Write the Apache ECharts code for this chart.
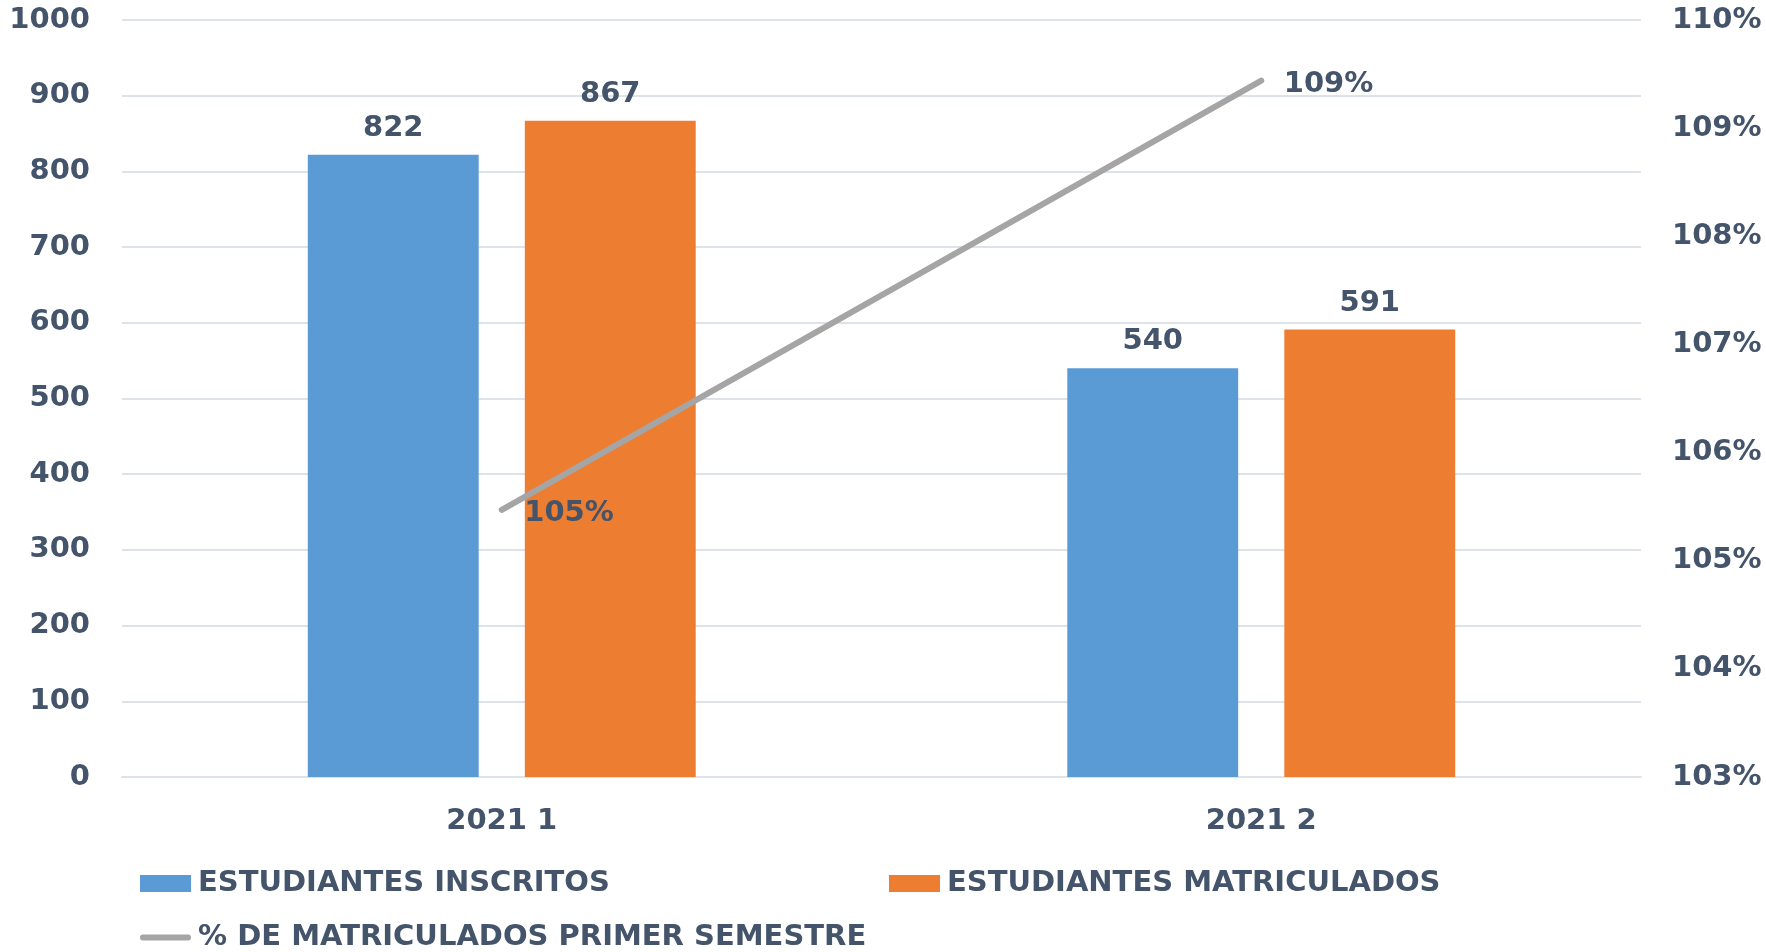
<!DOCTYPE html>
<html><head><meta charset="utf-8">
<script src="https://cdn.jsdelivr.net/npm/echarts@6/dist/echarts.min.js"></script>
<style>html,body{margin:0;padding:0;background:#fff}#c{width:1766px;height:952px}</style>
</head><body><div id="c"></div>
<script>
const categories = ['2021 1', '2021 2'];
const inscritos = [822, 540];
const matriculados = [867, 591];
const porcentaje = [1.0547, 1.0944];
const seriesNames = ['ESTUDIANTES INSCRITOS', 'ESTUDIANTES MATRICULADOS', '% DE MATRICULADOS PRIMER SEMESTRE'];

const FONT = "'DejaVu Sans', 'Open Sans', sans-serif";
const TXT = '#44546A';
const GRID = '#DEE3E9';
const baseText = {color: TXT, fontFamily: FONT, fontWeight: 'bold', fontSize: 29};

const chart = echarts.init(document.getElementById('c'), null, {renderer: 'canvas'});
chart.setOption({
  animation: false,
  backgroundColor: '#fff',
  grid: {left: 122, right: 125, top: 20, bottom: 175, containLabel: false},
  legend: [
    {data: [{name: seriesNames[0], icon: 'rect'}], left: 135, top: 864, itemWidth: 51, itemHeight: 17, itemGap: 0, textStyle: Object.assign({}, baseText, {padding: [0,0,0,2]})},
    {data: [{name: seriesNames[1], icon: 'rect'}], left: 884, top: 864, itemWidth: 51, itemHeight: 17, itemGap: 0, textStyle: Object.assign({}, baseText, {padding: [0,0,0,2]})},
    {data: [{name: seriesNames[2], icon: 'path://M3,0 L48,0 A3,3 0 0 1 48,6 L3,6 A3,3 0 0 1 3,0 Z', itemStyle: {color: '#A5A5A5'}}], left: 135, top: 918, itemWidth: 51, itemHeight: 6, itemGap: 0, textStyle: Object.assign({}, baseText, {padding: [0,0,0,2]})}
  ],
  xAxis: {
    type: 'category', data: categories,
    axisLine: {show: true, lineStyle: {color: GRID, width: 2}},
    axisTick: {show: false},
    axisLabel: Object.assign({}, baseText, {margin: 30})
  },
  yAxis: [
    {type: 'value', min: 0, max: 1000, interval: 100,
     axisLine: {show: false}, axisTick: {show: false},
     splitLine: {lineStyle: {color: GRID, width: 2}},
     axisLabel: Object.assign({}, baseText, {margin: 32, formatter: v => String(v)})},
    {type: 'value', min: 1.03, max: 1.10, interval: 0.01,
     axisLine: {show: false}, axisTick: {show: false}, splitLine: {show: false},
     axisLabel: Object.assign({}, baseText, {margin: 31, formatter: v => Math.round(v * 100) + '%'})}
  ],
  series: [
    {name: seriesNames[0], type: 'bar', data: inscritos, barWidth: '22.5%', barGap: '27%',
     itemStyle: {color: '#5B9BD5'},
     label: Object.assign({show: true, position: 'top', distance: 12}, baseText)},
    {name: seriesNames[1], type: 'bar', data: matriculados, barWidth: '22.5%', barGap: '27%',
     itemStyle: {color: '#ED7D31'},
     label: Object.assign({show: true, position: 'top', distance: 12}, baseText)},
    {name: seriesNames[2], type: 'line', yAxisIndex: 1, data: porcentaje,
     showSymbol: true, symbol: 'circle', symbolSize: 1,
     lineStyle: {color: '#A5A5A5', width: 6, cap: 'round'},
     itemStyle: {color: 'rgba(165,165,165,0)'},
     label: Object.assign({show: true, position: 'right', distance: 22, offset: [0, 4], formatter: p => Math.round(p.value * 100) + '%'}, baseText),
     z: 5}
  ]
});
</script></body></html>
